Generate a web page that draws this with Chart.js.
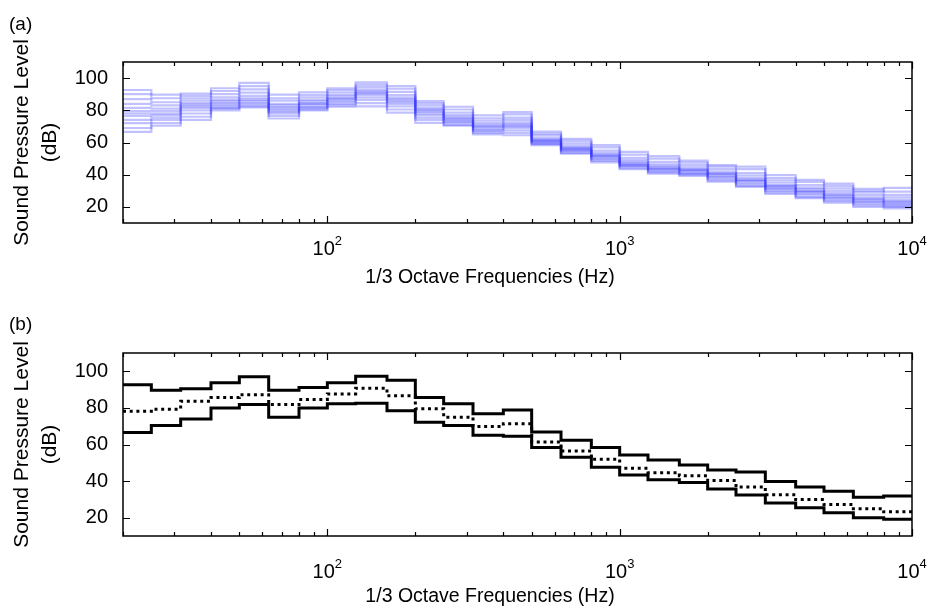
<!DOCTYPE html>
<html>
<head>
<meta charset="utf-8">
<script src="https://cdn.jsdelivr.net/npm/chart.js@4.4.1/dist/chart.umd.min.js"></script>
<style>
  html, body { margin: 0; padding: 0; background: #fff; }
  #wrap { position: relative; width: 927px; height: 613px; overflow: hidden; }
  canvas { position: absolute; left: 0; }
  #chart-a { top: 0; }
  #chart-b { top: 306px; }
</style>
</head>
<body>
<div id="wrap">
  <canvas id="chart-a" width="927" height="306"></canvas>
  <canvas id="chart-b" width="927" height="307"></canvas>
</div>
<script>
// 1/3 octave band centre frequencies (Hz)
const freqs = [20, 25, 31.5, 40, 50, 63, 80, 100, 125, 160, 200, 250, 315, 400, 500,
  630, 800, 1000, 1250, 1600, 2000, 2500, 3150, 4000, 5000, 6300, 8000, 10000];

// panel (a): individual spectra (dB)
const s01 = [92.6, 87.5, 90.4, 92.0, 97.0, 87.5, 91.1, 93.7, 96.0, 95.1, 85.7, 80.5, 76.8, 77.5, 66.8, 61.0, 58.4, 52.5, 51.5, 47.5, 46.0, 45.0, 38.0, 36.8, 33.0, 31.2, 29.5, 29.5];
const s02 = [90.0, 89.7, 89.0, 93.7, 95.0, 89.7, 89.5, 92.5, 97.3, 93.5, 84.5, 82.2, 75.0, 78.9, 65.5, 62.3, 57.0, 54.2, 50.0, 48.8, 45.0, 43.5, 39.8, 35.5, 34.4, 30.0, 31.8, 31.8];
const s03 = [87.0, 85.0, 87.5, 90.0, 93.0, 86.0, 88.0, 91.0, 94.5, 91.5, 83.0, 78.5, 73.5, 75.5, 64.5, 59.5, 55.0, 50.5, 48.0, 46.0, 43.5, 41.0, 36.5, 33.5, 31.5, 29.0, 27.5, 27.5];
const s04 = [84.0, 83.0, 86.0, 88.0, 91.0, 84.0, 86.5, 89.5, 93.0, 89.5, 81.5, 77.0, 72.0, 74.0, 63.0, 58.0, 53.5, 49.0, 46.5, 44.5, 42.0, 39.5, 35.0, 32.0, 30.0, 27.5, 26.0, 26.0];
const s05 = [81.5, 81.0, 84.5, 86.5, 89.0, 83.0, 85.5, 88.5, 92.0, 88.0, 80.5, 76.0, 71.0, 72.5, 62.0, 57.0, 52.5, 48.0, 45.5, 43.5, 41.0, 38.0, 33.5, 31.0, 28.5, 26.0, 24.5, 24.5];
const s06 = [79.5, 79.5, 83.5, 85.5, 87.5, 82.0, 84.5, 87.5, 91.0, 87.0, 80.0, 75.0, 70.0, 71.5, 61.5, 56.5, 52.0, 47.0, 44.5, 43.0, 40.5, 37.0, 33.0, 30.0, 27.5, 25.0, 23.5, 23.5];
const s07 = [78.0, 78.0, 82.5, 84.5, 86.5, 81.0, 84.0, 87.0, 90.5, 86.0, 79.0, 74.5, 69.5, 70.5, 61.0, 56.0, 51.5, 46.5, 44.0, 42.5, 40.0, 36.5, 32.5, 29.5, 27.0, 24.5, 23.0, 23.0];
const s08 = [76.5, 77.0, 81.5, 83.5, 85.5, 80.0, 83.0, 86.0, 89.5, 85.0, 78.0, 73.5, 68.5, 70.0, 60.5, 55.5, 51.0, 46.0, 43.5, 42.0, 39.0, 36.0, 31.5, 29.0, 26.0, 23.5, 22.0, 22.0];
const s09 = [74.0, 75.5, 80.0, 82.5, 84.5, 79.0, 82.0, 85.0, 88.0, 84.0, 77.0, 73.0, 67.5, 69.0, 60.0, 55.0, 50.0, 45.5, 43.0, 41.0, 38.5, 35.0, 31.0, 28.0, 25.5, 23.0, 21.5, 21.5];
const s10 = [72.0, 74.0, 78.0, 81.5, 83.5, 78.0, 81.5, 84.0, 86.5, 82.5, 75.5, 72.0, 67.0, 67.5, 59.5, 54.5, 49.5, 45.0, 42.0, 40.5, 37.5, 34.0, 30.0, 27.0, 24.5, 22.0, 20.5, 20.5];
const s11 = [69.0, 72.0, 76.0, 81.0, 82.5, 76.5, 80.5, 83.0, 84.5, 80.5, 74.0, 71.0, 66.0, 66.0, 59.0, 53.5, 48.5, 44.0, 41.5, 40.0, 36.5, 33.0, 29.0, 26.0, 23.5, 21.0, 20.0, 20.0];
const s12 = [66.6, 70.4, 74.0, 80.0, 81.8, 74.9, 80.0, 82.2, 82.5, 78.5, 72.2, 70.4, 65.0, 64.5, 58.4, 53.0, 47.6, 43.4, 40.7, 39.2, 35.7, 32.4, 28.1, 25.4, 22.7, 20.0, 19.1, 19.1];
const spectra = [s01, s02, s03, s04, s05, s06, s07, s08, s09, s10, s11, s12];

// panel (b): envelope and mean (dB)
const maxLevel = [92.6, 89.7, 90.4, 93.7, 97.0, 89.7, 91.1, 93.7, 97.3, 95.1, 85.7, 82.2, 76.8, 78.9, 66.8, 62.3, 58.4, 54.2, 51.5, 48.8, 46.0, 45.0, 39.8, 36.8, 34.4, 31.2, 31.8, 31.8];
const meanLevel = [78.2, 79.3, 83.6, 85.7, 87.2, 81.8, 84.6, 87.6, 90.8, 86.6, 79.5, 74.9, 69.9, 71.4, 61.4, 56.5, 51.9, 47.0, 44.6, 42.9, 40.3, 36.8, 32.6, 29.9, 27.2, 24.9, 23.2, 23.2];
const minLevel = [66.6, 70.4, 74.0, 80.0, 81.8, 74.9, 80.0, 82.2, 82.5, 78.5, 72.2, 70.4, 65.0, 64.5, 58.4, 53.0, 47.6, 43.4, 40.7, 39.2, 35.7, 32.4, 28.1, 25.4, 22.7, 20.0, 19.1, 19.1];

// ticks
const yTickValues = [20, 40, 60, 80, 100];
const xDecades = [100, 1000, 10000];
const xMinorTicks = [20, 30, 40, 50, 60, 70, 80, 90, 200, 300, 400, 500, 600, 700, 800, 900,
  2000, 3000, 4000, 5000, 6000, 7000, 8000, 9000];

const FONT = '"Liberation Sans", Arial, Helvetica, sans-serif';
const xTitle = '1/3 Octave Frequencies (Hz)';
const yTitle = ['Sound Pressure Level', '(dB)'];

function toPoints(vals) {
  return freqs.map((f, i) => ({ x: f, y: vals[i] }));
}

function framePlugin(p) {
  return {
    id: 'frame',
    afterDraw(chart) {
      const ctx = chart.ctx;
      const a = chart.chartArea;
      const xs = chart.scales.x, ys = chart.scales.y;
      ctx.save();
      ctx.strokeStyle = '#000';
      ctx.lineWidth = 1.2;
      ctx.beginPath();
      yTickValues.forEach(v => {
        const y = Math.round(ys.getPixelForValue(v)) + 0.5;
        ctx.moveTo(a.left, y); ctx.lineTo(a.left + 7, y);
        ctx.moveTo(a.right, y); ctx.lineTo(a.right - 7, y);
      });
      xDecades.concat(xMinorTicks).forEach(f => {
        const x = Math.round(xs.getPixelForValue(f)) + 0.5;
        const len = xDecades.includes(f) ? 7 : 4;
        ctx.moveTo(x, a.bottom); ctx.lineTo(x, a.bottom - len);
        ctx.moveTo(x, a.top); ctx.lineTo(x, a.top + len);
      });
      ctx.stroke();
      ctx.lineWidth = 1.5;
      ctx.strokeRect(a.left, a.top, a.right - a.left, a.bottom - a.top);

      ctx.fillStyle = '#000';
      ctx.textBaseline = 'alphabetic';
      // x tick labels 10^n
      xDecades.forEach(f => {
        const exp = String(Math.round(Math.log10(f)));
        const x = xs.getPixelForValue(f);
        ctx.font = '20px ' + FONT;
        const w1 = ctx.measureText('10').width;
        ctx.font = '13px ' + FONT;
        const w2 = ctx.measureText(exp).width;
        const x0 = x - (w1 + w2) / 2;
        ctx.textAlign = 'left';
        ctx.font = '20px ' + FONT;
        ctx.fillText('10', x0, a.bottom + p.tickBase);
        ctx.font = '13px ' + FONT;
        ctx.fillText(exp, x0 + w1, a.bottom + p.tickBase - 10);
      });
      // x title
      ctx.font = '19.5px ' + FONT;
      ctx.textAlign = 'center';
      ctx.fillText(xTitle, 490, a.bottom + p.titleBase);
      // y title
      ctx.save();
      ctx.translate(0, (a.top + a.bottom) / 2);
      ctx.rotate(-Math.PI / 2);
      ctx.font = '21px ' + FONT;
      ctx.textBaseline = 'middle';
      ctx.fillText(yTitle[0], 0, 22);
      ctx.fillText(yTitle[1], 0, 50);
      ctx.restore();
      // panel label
      ctx.textAlign = 'left';
      ctx.font = '19px ' + FONT;
      ctx.fillText(p.label, 9, p.labelBase);
      ctx.restore();
    }
  };
}

function makeChart(id, datasets, p) {
  const canvas = document.getElementById(id);
  return new Chart(canvas, {
    type: 'line',
    data: { datasets: datasets },
    options: {
      responsive: false,
      animation: false,
      devicePixelRatio: 1,
      layout: { padding: { left: 0, right: 15, top: p.top, bottom: 0 } },
      plugins: { legend: { display: false }, tooltip: { enabled: false } },
      elements: { point: { radius: 0 } },
      scales: {
        x: {
          type: 'logarithmic',
          min: 20,
          max: 10000,
          grid: { display: false },
          border: { display: false },
          ticks: { display: false },
          afterFit: s => { s.height = p.xHeight; }
        },
        y: {
          min: 10,
          max: 110,
          grid: { display: false, drawTicks: false },
          border: { display: false },
          afterBuildTicks: s => { s.ticks = yTickValues.map(v => ({ value: v })); },
          ticks: {
            padding: 15,
            color: '#000',
            font: { family: FONT, size: 20 },
            callback: v => String(v)
          },
          afterFit: s => { s.width = 123; }
        }
      }
    },
    plugins: [framePlugin(p)]
  });
}

const blueSets = spectra.map(vals => ({
  data: toPoints(vals),
  stepped: true,
  borderColor: 'rgba(50, 50, 255, 0.3)',
  borderWidth: 2.2,
  fill: false
}));

makeChart('chart-a', blueSets, { top: 62, xHeight: 83, tickBase: 32, titleBase: 60, label: '(a)', labelBase: 30 });

const blackSets = [
  { data: toPoints(maxLevel), stepped: true, borderColor: '#000', borderWidth: 3, fill: false },
  { data: toPoints(meanLevel), stepped: true, borderColor: '#000', borderWidth: 3, borderDash: [3, 3.7], fill: false },
  { data: toPoints(minLevel), stepped: true, borderColor: '#000', borderWidth: 3, fill: false }
];

makeChart('chart-b', blackSets, { top: 47, xHeight: 77, tickBase: 42, titleBase: 66, label: '(b)', labelBase: 24 });
</script>
</body>
</html>
